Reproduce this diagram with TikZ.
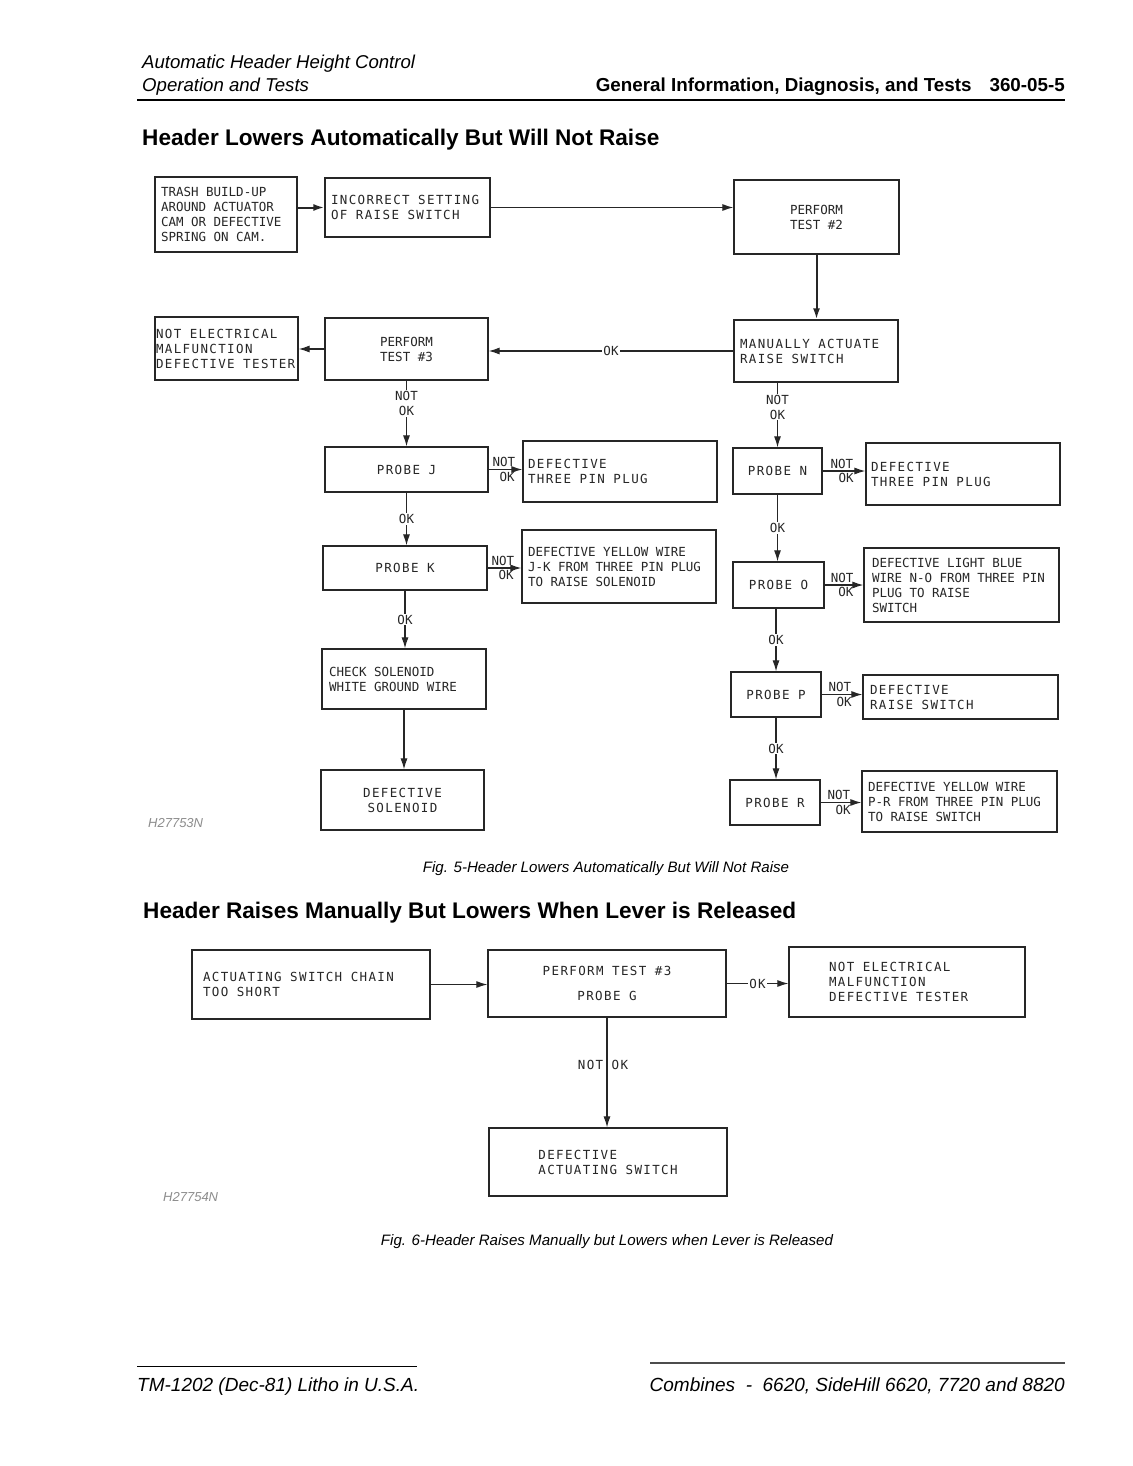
\documentclass[tikz,border=0pt]{standalone}
\usepackage{fontspec}
\setmainfont{Liberation Sans}
\newfontfamily\boxfont{DejaVu Sans Mono}
\newfontfamily\wideboxfont[LetterSpace=11]{DejaVu Sans Mono}
\usetikzlibrary{arrows.meta}

\begin{document}
\begin{tikzpicture}[x=1pt, y=-1pt,
  box/.style={draw=black!85, line width=1.3pt, inner ysep=2pt, text=black!85,
    font=\boxfont\fontsize{12.5}{15}\selectfont, execute at begin node={\spaceskip=7.5pt\relax}},
  wide/.style={font=\wideboxfont\fontsize{12.5}{15}\selectfont, execute at begin node={\spaceskip=8.5pt\relax}},
  cbox/.style 2 args={box, minimum width=#1, minimum height=#2, align=center},
  lbox/.style 2 args={box, text width=#1, minimum height=#2, inner xsep=6pt, align=left},
  link/.style={draw=black!85, line width=1.1pt, -{Latex[length=11pt,width=7pt]}},
  lbl/.style={inner sep=1pt, text=black!85, font=\boxfont\fontsize{12.5}{15}\selectfont},
  head/.style={inner sep=0pt, anchor=base west, font=\fontsize{18.6}{22}\selectfont\itshape},
  title/.style={inner sep=0pt, anchor=base west, font=\fontsize{22.6}{26}\selectfont\bfseries},
  caption/.style={inner sep=0pt, anchor=base, font=\fontsize{15.1}{18}\selectfont\itshape},
  figno/.style={inner sep=0pt, anchor=base west, text=black!45, font=\fontsize{13}{15}\selectfont\itshape},
  foot/.style={inner sep=0pt, font=\fontsize{19}{22}\selectfont\itshape}
]
\fill[white] (0,0) rectangle (1132,1466);
\useasboundingbox (0,0) rectangle (1132,1466);

\node[head] (topic) at (142,69) {Automatic Header Height Control};
\node[head] (chapter) at (142,92) {Operation and Tests};
\node[head, anchor=base east, font=\fontsize{18.8}{22}\selectfont\bfseries] (section) at (1065,92)
  {General Information, Diagnosis, and Tests\hspace{18pt}360-05-5};
\draw[line width=1.4pt] (137,100) -- (1065,100);

\node[title] (titlea) at (142,146) {Header Lowers Automatically But Will Not Raise};

\node[lbox={130pt}{75pt}] (trash) at (226,214.5) {TRASH BUILD-UP\\AROUND ACTUATOR\\CAM OR DEFECTIVE\\SPRING ON CAM.};
\node[lbox={153pt}{59pt}, wide] (setting) at (407.5,207.5) {INCORRECT SETTING\\OF RAISE SWITCH};
\node[cbox={165pt}{74pt}] (testtwo) at (816.5,217) {PERFORM\\TEST \#2};
\node[lbox={152pt}{62pt}, wide] (manual) at (816,351) {MANUALLY ACTUATE\\RAISE SWITCH};
\node[cbox={163pt}{62pt}] (testthree) at (406.5,349) {PERFORM\\TEST \#3};
\node[lbox={141pt}{63pt}, inner xsep=1pt, wide] (notelec) at (226.5,348.5) {NOT ELECTRICAL\\MALFUNCTION\\DEFECTIVE TESTER};

\node[cbox={163pt}{45pt}, wide] (probej) at (406.5,469.5) {PROBE J};
\node[lbox={184pt}{61pt}, inner xsep=5pt, wide] (defj) at (620,471.5) {DEFECTIVE\\THREE PIN PLUG};
\node[cbox={164pt}{44pt}, wide] (probek) at (405,568) {PROBE K};
\node[lbox={182pt}{73pt}] (defk) at (619,566.5) {DEFECTIVE YELLOW WIRE\\J-K FROM THREE PIN PLUG\\TO RAISE SOLENOID};
\node[lbox={150pt}{60pt}, inner xsep=7pt] (checksol) at (404,679) {CHECK SOLENOID\\WHITE GROUND WIRE};
\node[cbox={163pt}{60pt}, wide] (defsol) at (402.5,800) {DEFECTIVE\\SOLENOID};

\node[cbox={89pt}{46pt}, wide] (proben) at (777.5,471) {PROBE N};
\node[lbox={184pt}{62pt}, inner xsep=5pt, wide] (defn) at (963,474) {DEFECTIVE\\THREE PIN PLUG};
\node[cbox={91pt}{46pt}, wide] (probeo) at (778.5,585) {PROBE O};
\node[lbox={179pt}{74pt}, inner xsep=8pt] (defo) at (961.5,585) {DEFECTIVE LIGHT BLUE\\WIRE N-O FROM THREE PIN\\PLUG TO RAISE\\SWITCH};
\node[cbox={90pt}{45pt}, wide] (probep) at (776,694.5) {PROBE P};
\node[lbox={181pt}{44pt}, inner xsep=7pt, wide] (defp) at (960.5,697) {DEFECTIVE\\RAISE SWITCH};
\node[cbox={90pt}{45pt}, wide] (prober) at (775,802.5) {PROBE R};
\node[lbox={183pt}{61pt}] (defr) at (959.5,801.5) {DEFECTIVE YELLOW WIRE\\P-R FROM THREE PIN PLUG\\TO RAISE SWITCH};

\draw[link, line width=2pt] (trash.east |- setting.west) -- (setting.west);
\draw[link] (setting.east) -- (setting.east -| testtwo.west);
\draw[link, line width=2pt] (testtwo.south) -- (testtwo.south |- manual.north);
\draw[link] (manual.west) -- node[lbl, fill=white] {OK} (manual.west -| testthree.east);
\draw[link] (testthree.west) -- (testthree.west -| notelec.east);
\draw[link] (testthree.south -| probej.north) -- node[lbl, fill=white, align=center, pos=.35] {NOT\\OK} (probej.north);
\draw[link] (probej.east) -- node[lbl, above=1pt, pos=.45] {NOT} node[lbl, below=1pt, pos=.55] {OK} (probej.east -| defj.west);
\draw[link] (probej.south) -- node[lbl, fill=white] {OK} (probej.south |- probek.north);
\draw[link] (probek.east) -- node[lbl, above=1pt, pos=.45] {NOT} node[lbl, below=1pt, pos=.55] {OK} (probek.east -| defk.west);
\draw[link] (probek.south) -- node[lbl, fill=white] {OK} (probek.south |- checksol.north);
\draw[link] (checksol.south) -- (checksol.south |- defsol.north);

\draw[link] (proben.north |- manual.south) -- node[lbl, fill=white, align=center, pos=.38] {NOT\\OK} (proben.north);
\draw[link] (proben.east) -- node[lbl, above=1pt, pos=.45] {NOT} node[lbl, below=1pt, pos=.55] {OK} (proben.east -| defn.west);
\draw[link] (proben.south) -- node[lbl, fill=white] {OK} (proben.south |- probeo.north);
\draw[link] (probeo.east) -- node[lbl, above=1pt, pos=.45] {NOT} node[lbl, below=1pt, pos=.55] {OK} (probeo.east -| defo.west);
\draw[link] (probep.north |- probeo.south) -- node[lbl, fill=white] {OK} (probep.north);
\draw[link] (probep.east) -- node[lbl, above=1pt, pos=.45] {NOT} node[lbl, below=1pt, pos=.55] {OK} (probep.east -| defp.west);
\draw[link] (probep.south) -- node[lbl, fill=white] {OK} (probep.south |- prober.north);
\draw[link] (prober.east) -- node[lbl, above=1pt, pos=.45] {NOT} node[lbl, below=1pt, pos=.55] {OK} (prober.east -| defr.west);

\node[figno] (numa) at (148,827) {H27753N};
\node[caption] (capa) at (606,872) {Fig. 5-Header Lowers Automatically But Will Not Raise};

\node[title] (titleb) at (143,918) {Header Raises Manually But Lowers When Lever is Released};

\node[lbox={216pt}{69pt}, inner xsep=11pt, wide] (chain) at (311,984.5) {ACTUATING SWITCH CHAIN\\TOO SHORT};
\node[cbox={238pt}{67pt}, wide] (testprobe) at (607,983.5) {PERFORM TEST \#3\\[10pt]PROBE G};
\node[lbox={156pt}{70pt}, inner xsep=40pt, wide] (notelectwo) at (907,982) {NOT ELECTRICAL\\MALFUNCTION\\DEFECTIVE TESTER};
\node[cbox={238pt}{68pt}, align=left, wide] (defact) at (608,1162) {DEFECTIVE\\ACTUATING SWITCH};

\draw[link] (chain.east) -- (chain.east -| testprobe.west);
\draw[link] (testprobe.east) -- node[lbl, fill=white, wide] {OK} (testprobe.east -| notelectwo.west);
\draw[link] (testprobe.south) -- node[lbl, wide, pos=.43, xshift=-4pt] {NOT OK} (testprobe.south |- defact.north);

\node[figno] (numb) at (163,1201) {H27754N};
\node[caption] (capb) at (607,1245) {Fig. 6-Header Raises Manually but Lowers when Lever is Released};

\draw[line width=1pt] (137,1366) -- (417,1366);
\draw[line width=1.6pt, black!70] (650,1363) -- (1065,1363);
\node[foot, anchor=base west] (printing) at (137,1391) {TM-1202 (Dec-81) Litho in U.S.A.};
\node[foot, anchor=base east] (models) at (1065,1391) {Combines \;-\; 6620, SideHill 6620, 7720 and 8820};
\end{tikzpicture}
\end{document}
